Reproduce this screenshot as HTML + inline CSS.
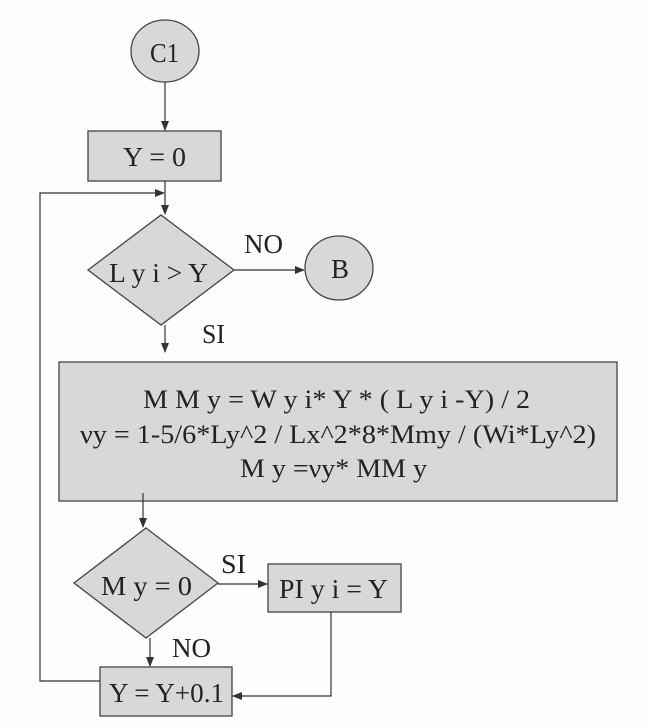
<!DOCTYPE html>
<html><head><style>
html,body{margin:0;padding:0;background:#fdfdfd;}
svg{display:block;}
text{font-family:"Liberation Serif",serif;fill:#222;}
</style></head><body>
<svg width="651" height="724" viewBox="0 0 651 724" xmlns="http://www.w3.org/2000/svg">
<defs>
<marker id="a" markerWidth="10" markerHeight="8" refX="9" refY="4" orient="auto" markerUnits="userSpaceOnUse">
<path d="M0,0 L10,4 L0,8 z" fill="#333"/>
</marker>
</defs>
<g stroke="#444" stroke-width="1.3" fill="#d8d8d8">
<ellipse cx="165" cy="51" rx="34" ry="31"/>
<rect x="88" y="131" width="133" height="50"/>
<polygon points="161,215 234,270 161,325 88,270"/>
<ellipse cx="339" cy="268" rx="34" ry="32"/>
<rect x="59" y="362" width="558" height="139"/>
<polygon points="146,528 218,583 146,638 74,583"/>
<rect x="268" y="564" width="133" height="48"/>
<rect x="100" y="667" width="132" height="49"/>
</g>
<g stroke="#333" stroke-width="1.2" fill="none">
<line x1="165" y1="82" x2="165" y2="130" marker-end="url(#a)"/>
<line x1="165" y1="181" x2="165" y2="214" marker-end="url(#a)"/>
<polyline points="100,681 40,681 40,193 164,193" marker-end="url(#a)"/>
<line x1="234" y1="270" x2="304" y2="270" marker-end="url(#a)"/>
<line x1="165" y1="325" x2="165" y2="352" marker-end="url(#a)"/>
<line x1="143" y1="493" x2="143" y2="527" marker-end="url(#a)"/>
<line x1="218" y1="584" x2="267" y2="584" marker-end="url(#a)"/>
<line x1="150" y1="638" x2="150" y2="666" marker-end="url(#a)"/>
<polyline points="331,612 331,696 233,696" marker-end="url(#a)"/>
</g>
<g font-size="27" lengthAdjust="spacingAndGlyphs">
<text x="150" y="62" textLength="29" lengthAdjust="spacingAndGlyphs">C1</text>
<text x="123" y="166" textLength="63" lengthAdjust="spacingAndGlyphs">Y = 0</text>
<text x="109" y="282" textLength="99" lengthAdjust="spacingAndGlyphs">L y i &gt; Y</text>
<text x="331" y="278" textLength="18" lengthAdjust="spacingAndGlyphs">B</text>
<text x="244" y="253" textLength="39" lengthAdjust="spacingAndGlyphs">NO</text>
<text x="202" y="343" textLength="23" lengthAdjust="spacingAndGlyphs">SI</text>
<text x="101" y="595" textLength="91" lengthAdjust="spacingAndGlyphs">M y = 0</text>
<text x="221" y="573" textLength="25" lengthAdjust="spacingAndGlyphs">SI</text>
<text x="279" y="598" textLength="109" lengthAdjust="spacingAndGlyphs">PI y i = Y</text>
<text x="172" y="657" textLength="39" lengthAdjust="spacingAndGlyphs">NO</text>
<text x="109" y="702" textLength="115" lengthAdjust="spacingAndGlyphs">Y = Y+0.1</text>
</g>
<g font-size="26">
<text x="143" y="408" textLength="387" lengthAdjust="spacingAndGlyphs">M M y = W y i* Y * ( L y i -Y) / 2</text>
<text x="80" y="443" textLength="516" lengthAdjust="spacingAndGlyphs">νy = 1-5/6*Ly^2 / Lx^2*8*Mmy / (Wi*Ly^2)</text>
<text x="240" y="477" textLength="187" lengthAdjust="spacingAndGlyphs">M y =νy* MM y</text>
</g>
</svg>
</body></html>
